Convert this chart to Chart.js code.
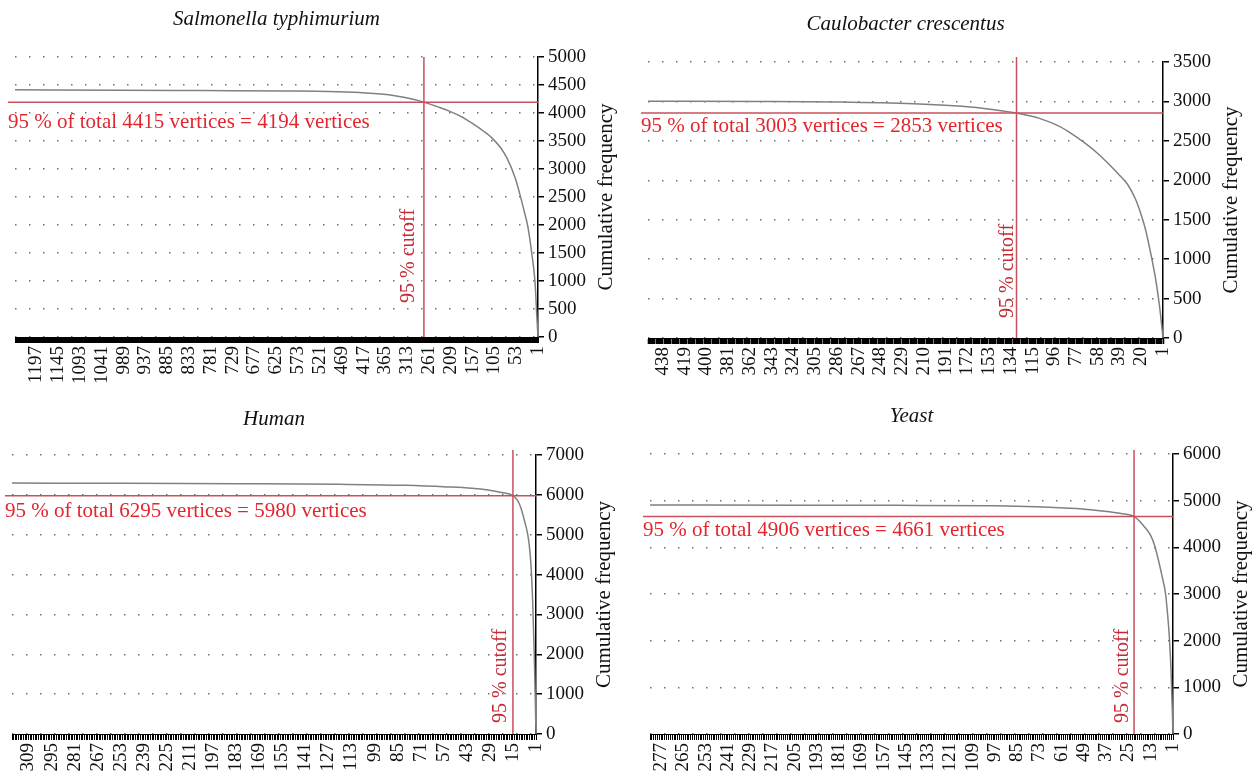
<!DOCTYPE html>
<html>
<head>
<meta charset="utf-8">
<script src="https://cdn.jsdelivr.net/npm/chart.js@4/dist/chart.umd.min.js"></script>
<style>
body{margin:0;background:#fff;}
.panel{position:absolute;width:630px;}
</style>
</head>
<body>
<div class="panel" style="left:0;top:0;height:390px"><canvas id="c0"></canvas></div>
<div class="panel" style="left:630px;top:0;height:390px"><canvas id="c1"></canvas></div>
<div class="panel" style="left:0;top:390px;height:389px"><canvas id="c2"></canvas></div>
<div class="panel" style="left:630px;top:390px;height:389px"><canvas id="c3"></canvas></div>
<script>
const FONT = '"Liberation Serif", "DejaVu Serif", serif';

const titles = ['Salmonella typhimurium', 'Caulobacter crescentus', 'Human', 'Yeast'];
const maxDegree = [1248, 451, 319, 283];
const labelStep = [52, 19, 14, 12];
const yMax = [5000, 3500, 7000, 6000];
const yStep = [500, 500, 1000, 1000];
const totalVertices = [4415, 3003, 6295, 4906];
const cutoffVertices = [4194, 2853, 5980, 4661];
const cutoffDegree = [273, 129, 15, 22];

// degree where the curve was read -> cumulative frequency
const salmonellaDeg  = [1248, 1000, 800, 600, 500, 426, 357, 318, 273, 240, 211, 180, 162, 130, 113, 90, 74, 55, 45, 35, 25, 16, 8, 4, 1];
const salmonellaFreq = [4415, 4408, 4400, 4392, 4385, 4365, 4325, 4275, 4194, 4110, 4030, 3920, 3835, 3670, 3570, 3380, 3180, 2830, 2570, 2280, 1960, 1500, 970, 400, 0];
const caulobacterDeg  = [451, 350, 283, 219, 184, 159, 129, 109, 91, 84, 70, 58, 48, 40, 32, 25, 20, 16, 13, 10, 7, 4, 1];
const caulobacterFreq = [3003, 3000, 2992, 2970, 2945, 2915, 2853, 2785, 2680, 2620, 2480, 2340, 2200, 2080, 1950, 1760, 1560, 1360, 1160, 950, 710, 400, 0];
const humanDeg  = [319, 250, 180, 120, 80, 55, 40, 30, 22, 15, 12, 10, 8, 6, 5, 4, 3, 2, 1];
const humanFreq = [6295, 6290, 6280, 6265, 6240, 6200, 6165, 6120, 6060, 5980, 5850, 5650, 5350, 5000, 4700, 4200, 3300, 1900, 0];
const yeastDeg  = [283, 200, 150, 97, 75, 53, 38, 29, 22, 16, 13, 11, 9, 7, 5, 4, 3, 2, 1];
const yeastFreq = [4906, 4903, 4900, 4890, 4870, 4830, 4775, 4725, 4661, 4420, 4250, 4050, 3750, 3400, 3000, 2600, 2100, 1300, 0];

const degs = [salmonellaDeg, caulobacterDeg, humanDeg, yeastDeg];
const freqs = [salmonellaFreq, caulobacterFreq, humanFreq, yeastFreq];

// page layout of each panel (padding + axis box sizes give the plot area)
const layout = [
  { pad:{left:15, top:57, right:32, bottom:1}, xH:52, titleY:25, hText:26, vGap:10, vUp:34, vTop:0, tickW:1 },
  { pad:{left:18, top:62, right:37, bottom:8}, xH:44, titleY:30, hText:19, vGap:4, vUp:20, vTop:5, tickW:1.6 },
  { pad:{left:12, top:65, right:34, bottom:5}, xH:40, titleY:35, hText:21, vGap:7, vUp:11, vTop:5, tickW:1 },
  { pad:{left:20, top:64, right:27, bottom:5}, xH:40, titleY:32, hText:20, vGap:6, vUp:11, vTop:4, tickW:1 }
];

function makeChart(i){
  const N = maxDegree[i], step = labelStep[i], L = layout[i];
  const labels = Array.from({length:N}, (_, k) => String(N - k));
  const pts = degs[i].map((d, k) => ({x:String(d), y:freqs[i][k]}));

  const annot = {
    id:'annot'+i,
    afterDatasetsDraw(chart){
      const {ctx, chartArea:a, scales:{x, y}} = chart;
      const cx = x.getPixelForValue(labels.indexOf(String(cutoffDegree[i])));
      const cy = y.getPixelForValue(cutoffVertices[i]);
      ctx.save();
      ctx.strokeStyle = '#c8505a'; ctx.lineWidth = 1.5;
      ctx.beginPath();
      ctx.moveTo(a.left - 7, cy); ctx.lineTo(a.right, cy);
      ctx.moveTo(cx, a.top - L.vTop); ctx.lineTo(cx, a.bottom);
      ctx.stroke();
      ctx.fillStyle = '#e3262e'; ctx.font = '21px ' + FONT;
      ctx.textAlign = 'left'; ctx.textBaseline = 'alphabetic';
      ctx.fillText('95 % of total ' + totalVertices[i] + ' vertices = ' + cutoffVertices[i] + ' vertices', a.left - 7, cy + L.hText);
      ctx.translate(cx - L.vGap, a.bottom - L.vUp); ctx.rotate(-Math.PI/2);
      ctx.fillStyle = '#c42a33'; ctx.font = '20px ' + FONT;
      ctx.fillText('95 % cutoff', 0, 0);
      ctx.restore();

      ctx.save();
      ctx.fillStyle = '#111'; ctx.textAlign = 'center';
      ctx.font = 'italic 21px ' + FONT;
      ctx.fillText(titles[i], (a.left + a.right)/2, L.titleY);
      ctx.translate(a.right + 68, (a.top + a.bottom)/2); ctx.rotate(-Math.PI/2);
      ctx.font = '21px ' + FONT; ctx.textBaseline = 'middle';
      ctx.fillText('Cumulative frequency', 0, 0);
      ctx.restore();
    }
  };

  new Chart(document.getElementById('c'+i), {
    type:'line',
    data:{ labels, datasets:[{ data:pts, borderColor:'#808080', borderWidth:1.5, pointRadius:0, fill:false, cubicInterpolationMode:'monotone' }] },
    options:{
      responsive:true, maintainAspectRatio:false, animation:false,
      layout:{ padding:L.pad },
      plugins:{ legend:{display:false}, tooltip:{enabled:false}, title:{display:false} },
      scales:{
        x:{
          grid:{ drawOnChartArea:false, tickLength:6, tickColor:'#000', tickWidth:L.tickW },
          border:{ color:'#000', width:1 },
          ticks:{ autoSkip:false, minRotation:90, maxRotation:90, padding:3, color:'#111', font:{family:FONT, size:19},
                  callback:(v, k) => ((N - k - 1) % step === 0 ? String(N - k) : '') },
          afterFit:s => { s.height = L.xH; }
        },
        y:{
          position:'right', min:0, max:yMax[i],
          grid:{ color:'#707070', lineWidth:1.5, tickColor:'#000', tickLength:6 },
          border:{ color:'#000', width:1.5, dash:[1.5, 12.5] },
          ticks:{ stepSize:yStep[i], padding:4, color:'#111', font:{family:FONT, size:19}, callback:v => String(v) },
          afterFit:s => { s.width = 60; }
        }
      }
    },
    plugins:[annot]
  });
}

[0, 1, 2, 3].forEach(makeChart);
</script>
</body>
</html>
